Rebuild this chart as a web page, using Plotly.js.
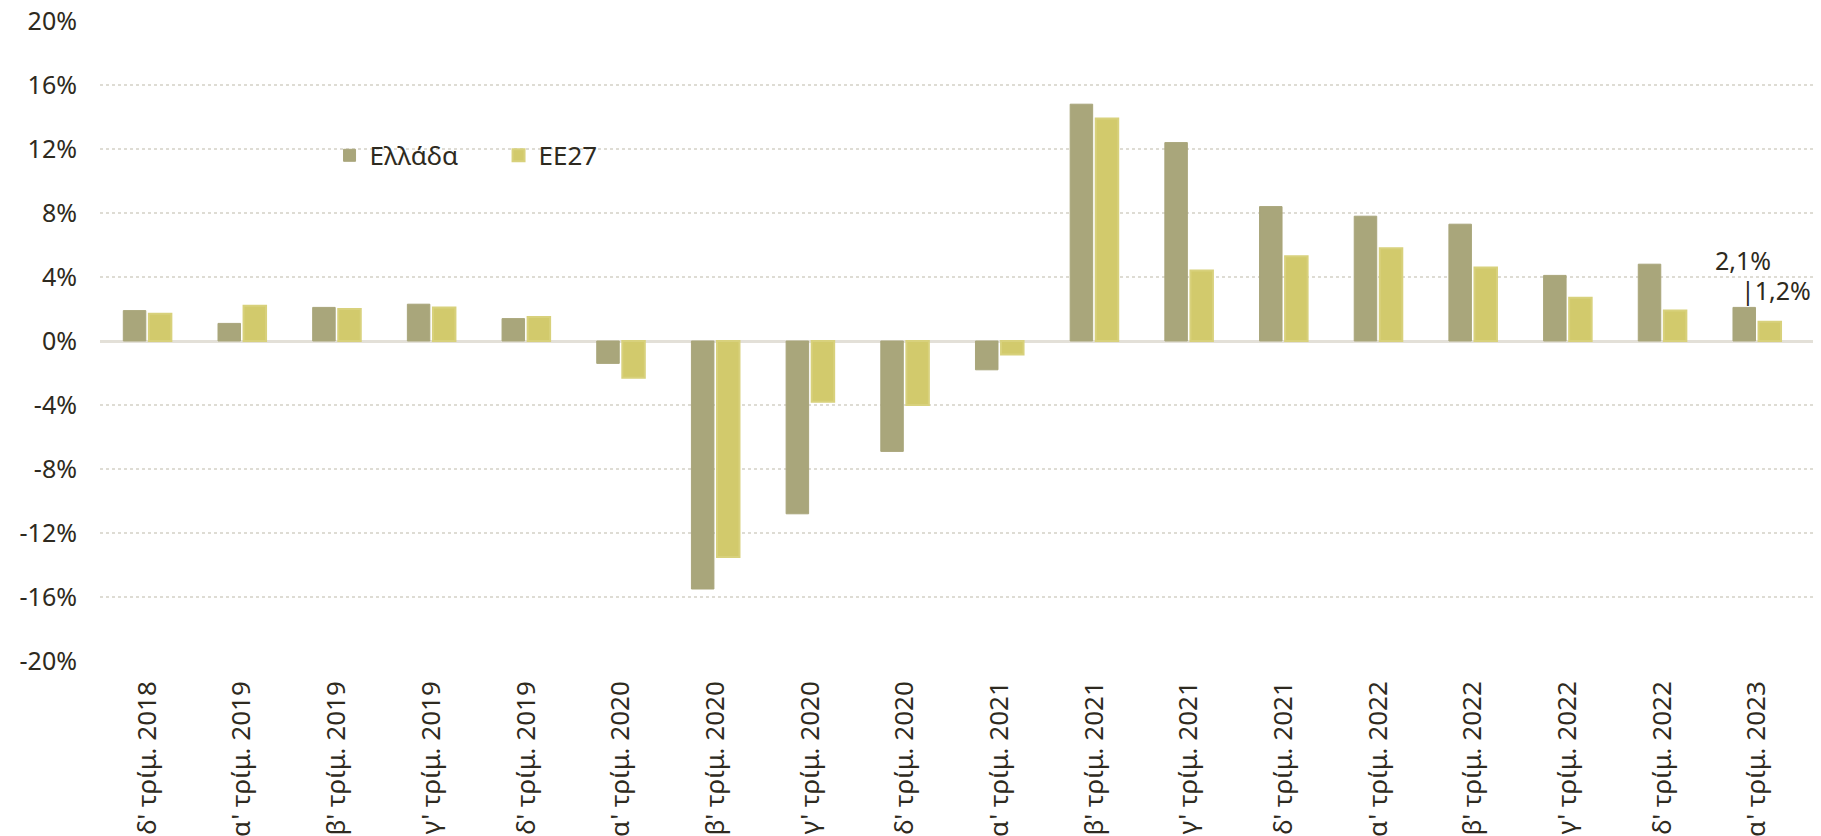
<!DOCTYPE html>
<html>
<head>
<meta charset="utf-8">
<script src="https://cdn.plot.ly/plotly-3.0.1.min.js"></script>
<style>
  html, body { margin: 0; padding: 0; background: #ffffff; }
  #chart { width: 1821px; height: 836px; }
</style>
</head>
<body>
<div id="chart"></div>
<script>
// Categories (quarters)
var categories = [
  "δ' τρίμ. 2018", "α' τρίμ. 2019", "β' τρίμ. 2019", "γ' τρίμ. 2019", "δ' τρίμ. 2019",
  "α' τρίμ. 2020", "β' τρίμ. 2020", "γ' τρίμ. 2020", "δ' τρίμ. 2020", "α' τρίμ. 2021",
  "β' τρίμ. 2021", "γ' τρίμ. 2021", "δ' τρίμ. 2021", "α' τρίμ. 2022", "β' τρίμ. 2022",
  "γ' τρίμ. 2022", "δ' τρίμ. 2022", "α' τρίμ. 2023"
];
// Greece (%)
var greece = [1.9, 1.1, 2.1, 2.3, 1.4, -1.4, -15.5, -10.8, -6.9, -1.8, 14.8, 12.4, 8.4, 7.8, 7.3, 4.1, 4.8, 2.1];
// EU27 (%)
var eu27 = [1.7, 2.2, 2.0, 2.1, 1.5, -2.3, -13.5, -3.8, -4.0, -0.85, 13.9, 4.4, 5.3, 5.8, 4.6, 2.7, 1.9, 1.2];
// Y tick values
var yTicks = [-20, -16, -12, -8, -4, 0, 4, 8, 12, 16, 20];
var yTickText = yTicks.map(function (v) { return v + '%'; });

var seriesNames = ['Ελλάδα', 'ΕΕ27'];

var fontFamily = '"Noto Sans", "Open Sans", sans-serif';
var textColor = '#2e2a20';
var greeceColor = '#a9a67b';
var euColor = '#d2ca6c';

var traces = [
  {
    type: 'bar', name: seriesNames[0], x: categories, y: greece,
    marker: { color: greeceColor, line: { color: greeceColor, width: 1 } },
    hoverinfo: 'x+y'
  },
  {
    type: 'bar', name: seriesNames[1], x: categories, y: eu27,
    marker: { color: euColor, line: { color: '#d8d17c', width: 2 } },
    hoverinfo: 'x+y'
  }
];

var last = categories.length - 1;
function fmt(v) { return v.toFixed(1).replace('.', ',') + '%'; }

var layout = {
  width: 1821, height: 836,
  paper_bgcolor: '#ffffff', plot_bgcolor: '#ffffff',
  margin: { l: 100, r: 8, t: 21, b: 175 },
  barmode: 'group',
  bargap: 0.46,
  bargroupgap: 0.12,
  font: { family: fontFamily, color: textColor, size: 25 },
  showlegend: true,
  legend: {
    orientation: 'h',
    x: 0.134, y: 0.79, xanchor: 'left', yanchor: 'middle',
    bgcolor: 'rgba(0,0,0,0)',
    font: { family: fontFamily, size: 26, color: textColor },
    itemwidth: 30,
    entrywidth: 124
  },
  xaxis: {
    type: 'category',
    tickangle: -90,
    showgrid: false,
    showline: false,
    ticks: '',
    ticklabelstandoff: 14,
    tickfont: { family: fontFamily, size: 26, color: textColor },
    fixedrange: true
  },
  yaxis: {
    range: [-20, 20],
    tickvals: yTicks,
    ticktext: yTickText,
    showgrid: true,
    gridcolor: '#dedcd4',
    griddash: 'dot',
    gridwidth: 1.5,
    zeroline: true,
    zerolinecolor: '#e3e0d8',
    zerolinewidth: 3,
    showline: false,
    ticks: '',
    ticklabelstandoff: 22,
    tickfont: { family: fontFamily, size: 25, color: textColor },
    fixedrange: true
  },
  annotations: [
    {
      x: categories[last], y: greece[last], xref: 'x', yref: 'y',
      text: fmt(greece[last]), showarrow: false,
      xanchor: 'center', yanchor: 'bottom', xshift: -14, yshift: 28,
      font: { family: fontFamily, size: 25, color: textColor }
    },
    {
      x: categories[last], y: greece[last], xref: 'x', yref: 'y',
      text: '|' + fmt(eu27[last]), showarrow: false,
      xanchor: 'left', yanchor: 'bottom', xshift: -18, yshift: -2,
      font: { family: fontFamily, size: 25, color: textColor }
    }
  ]
};

Plotly.newPlot('chart', traces, layout, { displayModeBar: false, responsive: false });
</script>
</body>
</html>
